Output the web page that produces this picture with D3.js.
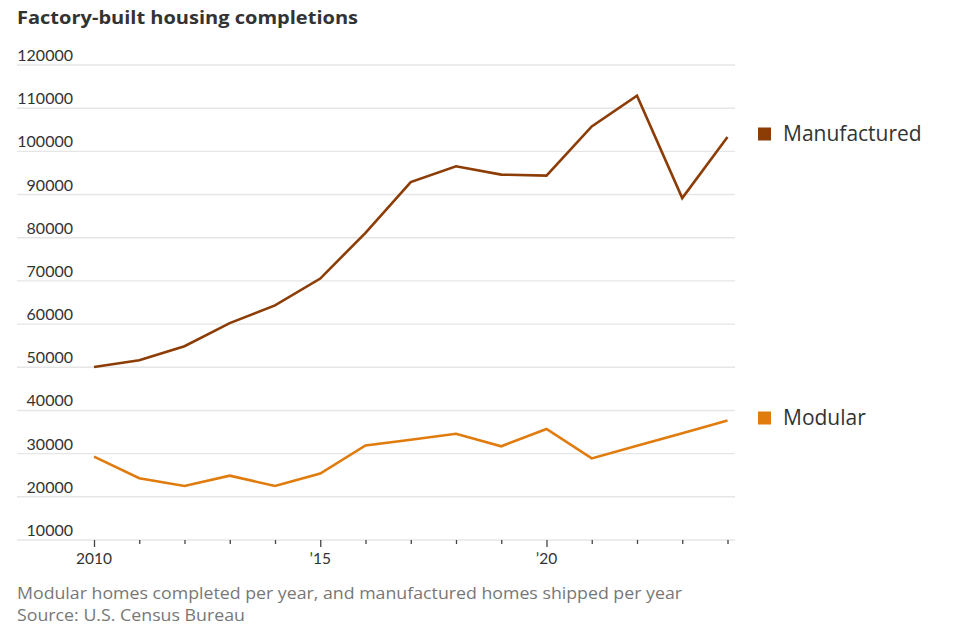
<!DOCTYPE html>
<html><head><meta charset="utf-8">
<script src="https://cdn.jsdelivr.net/npm/d3@7"></script>
<style>
body{margin:0;background:#fff;}
svg{display:block;}
</style></head>
<body>
<svg id="chart" width="953" height="638"></svg>
<script>
const years = [2010,2011,2012,2013,2014,2015,2016,2017,2018,2019,2020,2021,2022,2023,2024];
const manufactured = [50046,51606,54881,60228,64334,70544,81136,92902,96555,94615,94390,105772,112882,89169,103314];
const modular = [29300,24300,22500,24900,22500,25400,31900,33200,34600,31700,35700,28900,31800,34700,37700];
const yTicks = [10000,20000,30000,40000,50000,60000,70000,80000,90000,100000,110000,120000];
const xMajor = [2010,2015,2020];
const xMajorLabels = ["2010","\u201915","\u201920"];
const seriesNames = ["Manufactured","Modular"];
const seriesColors = ["#8c3d06","#e07b0d"];

const svg = d3.select("#chart");
const x = d3.scaleLinear().domain([2010,2024]).range([94,727.5]);
const y = d3.scaleLinear().domain([10000,120000]).range([540,65]);
const gridX0 = 17, gridX1 = 735;

// title
svg.append("text").attr("x",17).attr("y",24)
  .attr("font-family","'Open Sans', sans-serif").attr("font-weight",700)
  .attr("font-size",18.5).attr("fill","#333").attr("textLength",341).attr("lengthAdjust","spacingAndGlyphs")
  .text("Factory-built housing completions");

// gridlines
svg.append("g").selectAll("line").data(yTicks).join("line")
  .attr("x1",gridX0).attr("x2",gridX1)
  .attr("y1",d=>y(d)).attr("y2",d=>y(d))
  .attr("stroke","#e6e6e6").attr("stroke-width",1.4);

// y labels
svg.append("g").selectAll("text").data(yTicks).join("text")
  .attr("x",73).attr("y",d=>y(d)-4)
  .attr("text-anchor","end")
  .attr("font-family","Lato, 'Open Sans', sans-serif").attr("font-size",16)
  .attr("fill","#333").text(d=>d);

// x axis ticks
const xAxis = d3.axisBottom(x).tickValues(years).tickSize(4).tickFormat("");
const gx = svg.append("g").attr("transform",`translate(0,${y(10000)})`).call(xAxis);
gx.select(".domain").remove();
gx.selectAll(".tick line").attr("stroke","#444").attr("stroke-width",1.3)
  .attr("y2",d=>xMajor.includes(d)?7:4);

// x labels
svg.append("g").selectAll("text").data(xMajor).join("text")
  .attr("x",d=>x(d)).attr("y",564).attr("text-anchor","middle")
  .attr("font-family","Lato, 'Open Sans', sans-serif").attr("font-size",15.5)
  .attr("fill","#333").text((d,i)=>xMajorLabels[i]);

// lines
const line = d3.line().x((d,i)=>x(years[i])).y(d=>y(d));
[manufactured, modular].forEach((s,i)=>{
  svg.append("path").datum(s).attr("d",line)
    .attr("fill","none").attr("stroke",seriesColors[i])
    .attr("stroke-width",2.6).attr("stroke-linejoin","miter");
});

// legend
const legendY = [134, 418];
seriesNames.forEach((n,i)=>{
  svg.append("rect").attr("x",758).attr("y",legendY[i]-6.5).attr("width",13).attr("height",13)
    .attr("fill",seriesColors[i]);
  svg.append("text").attr("x",783).attr("y",legendY[i]).attr("dy","0.35em")
    .attr("font-family","'Open Sans', sans-serif").attr("font-size",21)
    .attr("fill","#333").text(n);
});

// footer
svg.append("text").attr("x",17).attr("y",599)
  .attr("font-family","'Open Sans', sans-serif").attr("font-size",16.5)
  .attr("fill","#777").attr("textLength",665).attr("lengthAdjust","spacingAndGlyphs")
  .text("Modular homes completed per year, and manufactured homes shipped per year");
svg.append("text").attr("x",17).attr("y",621)
  .attr("font-family","'Open Sans', sans-serif").attr("font-size",16.5)
  .attr("fill","#777").attr("textLength",228).attr("lengthAdjust","spacingAndGlyphs")
  .text("Source: U.S. Census Bureau");
</script>
</body></html>
